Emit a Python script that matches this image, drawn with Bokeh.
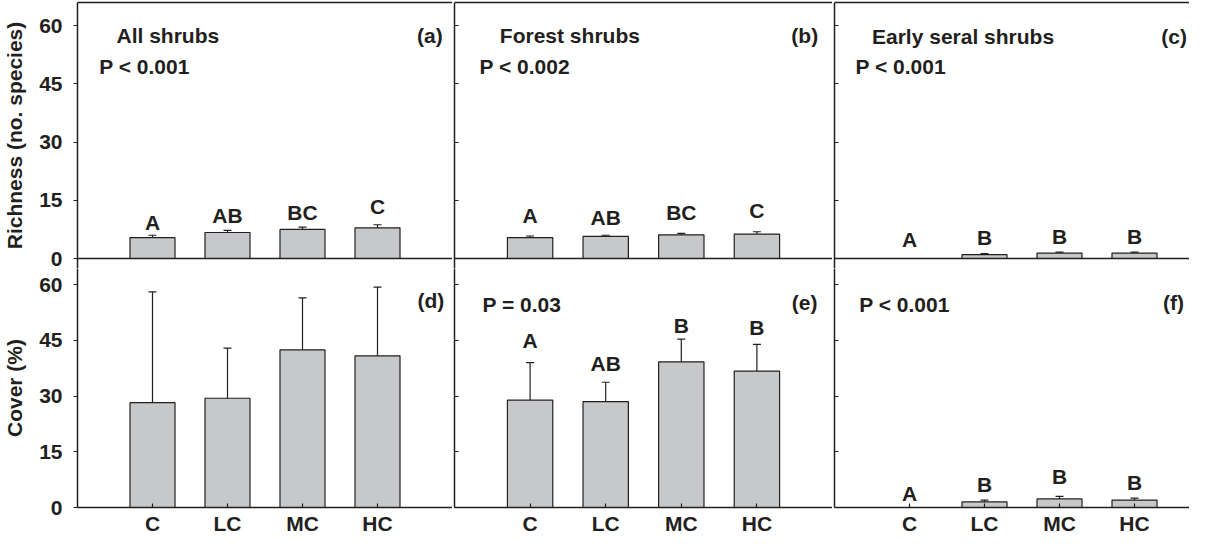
from bokeh.plotting import figure
from bokeh.layouts import gridplot
from bokeh.models import Range1d, FixedTicker, LinearAxis, Whisker, TeeHead, ColumnDataSource
from bokeh.core.properties import value
from bokeh.embed import file_html
from bokeh.resources import INLINE

# ---------------- data ----------------
treatments = ["C", "LC", "MC", "HC"]
y_ticks = [0, 15, 30, 45, 60]

# Richness (no. species): mean and upper error
rich_all_mean = [5.4, 6.7, 7.5, 7.9]
rich_all_err = [0.6, 0.55, 0.6, 0.8]
rich_forest_mean = [5.4, 5.7, 6.1, 6.3]
rich_forest_err = [0.4, 0.3, 0.4, 0.6]
rich_early_mean = [0.0, 1.0, 1.4, 1.4]
rich_early_err = [0.0, 0.25, 0.25, 0.25]

# Cover (%): mean and upper error
cover_all_mean = [28.2, 29.4, 42.4, 40.8]
cover_all_err = [29.8, 13.5, 14.0, 18.5]
cover_forest_mean = [28.9, 28.5, 39.2, 36.7]
cover_forest_err = [10.1, 5.2, 6.1, 7.2]
cover_early_mean = [0.0, 1.5, 2.3, 2.0]
cover_early_err = [0.0, 0.5, 0.7, 0.5]

# significance letters
letters_all_rich = ["A", "AB", "BC", "C"]
letters_forest_rich = ["A", "AB", "BC", "C"]
letters_early_rich = ["A", "B", "B", "B"]
letters_forest_cover = ["A", "AB", "B", "B"]
letters_early_cover = ["A", "B", "B", "B"]

panel_titles = ["All shrubs", "Forest shrubs", "Early seral shrubs"]
panel_tags = ["(a)", "(b)", "(c)", "(d)", "(e)", "(f)"]
p_texts = ["P < 0.001", "P < 0.002", "P < 0.001", None, "P = 0.03", "P < 0.001"]

# ---------------- layout / style ----------------
INK = "#231f20"
BAR = "#c7c8ca"
FONT = "Liberation Sans"
FS = "21px"

# letter heights (data units) for annotations
letters_y = {
    "a": [9.2, 11.2, 11.8, 13.5],
    "b": [11.1, 10.6, 11.8, 12.5],
    "c": [5.0, 5.4, 5.7, 5.7],
    "e": [44.9, 38.7, 49.1, 48.3],
    "f": [3.7, 6.2, 8.3, 6.8],
}

xs = list(range(1, len(treatments) + 1))
TOP_H, BOT_H, DELTA = 256, 249, 10
TOP_MAX, BOT_MAX = 66.0, 67.0
S_TOP = TOP_H / TOP_MAX
S_BOT = BOT_H / BOT_MAX
FRAME_W = [375, 378, 355]
LEFT_B = [75, 2, 2]
XMAX = [5.0, 5.0, 355 / 75.0]


def style_axis(ax):
    ax.axis_line_color = INK
    ax.axis_line_width = 1.5
    ax.major_tick_line_color = INK
    ax.major_tick_line_width = 1.2
    ax.minor_tick_line_color = None
    ax.minor_tick_in = 0
    ax.minor_tick_out = 0


def label_style(ax, standoff):
    ax.major_label_text_font = FONT
    ax.major_label_text_font_style = "bold"
    ax.major_label_text_font_size = FS
    ax.major_label_text_color = INK
    ax.major_label_standoff = standoff


def add_text(p, x, y, txt, align="left"):
    p.text(x=[x], y=[y], text=[txt], text_font=value(FONT), text_font_style="bold",
           text_font_size=FS, text_color=INK, text_align=align, text_baseline="alphabetic")


def make_panel(col, row, mean, err, letters=None, ly=None):
    top_row = row == 0
    if top_row:
        yr = Range1d(-DELTA / S_TOP, TOP_MAX)
        fh = TOP_H + DELTA
    else:
        yr = Range1d(0, BOT_MAX - DELTA / S_BOT)
        fh = BOT_H - DELTA
    p = figure(frame_width=FRAME_W[col], frame_height=fh,
               x_range=Range1d(0, XMAX[col]), y_range=yr,
               output_backend="svg", toolbar_location=None,
               min_border_left=LEFT_B[col], min_border_right=0,
               min_border_top=2 if top_row else 0, min_border_bottom=0,
               background_fill_color="white", border_fill_color="white")
    p.grid.visible = False
    p.outline_line_color = None

    # x axis
    xa = p.xaxis[0]
    style_axis(xa)
    xa.major_tick_out = 0
    if top_row:
        xa.ticker = FixedTicker(ticks=[])
        xa.major_tick_in = 0
        xa.fixed_location = 0
        xa.major_label_standoff = 0
        ta = LinearAxis(ticker=FixedTicker(ticks=[]), major_tick_in=0, major_tick_out=0,
                        major_label_standoff=0)
        style_axis(ta)
        p.add_layout(ta, "above")
    else:
        xa.ticker = FixedTicker(ticks=xs)
        xa.major_label_overrides = {x: t for x, t in zip(xs, treatments)}
        xa.major_tick_in = 4
        label_style(xa, 4)

    # y axis
    ya = p.yaxis[0]
    style_axis(ya)
    ya.ticker = FixedTicker(ticks=y_ticks)
    if col == 0:
        ya.major_tick_out = 4
        ya.major_tick_in = 0
        label_style(ya, 11)
        ya.axis_label = "Richness (no. species)" if top_row else "Cover (%)"
        ya.axis_label_text_font = FONT
        ya.axis_label_text_font_style = "bold"
        ya.axis_label_text_font_size = FS
        ya.axis_label_text_color = INK
        ya.axis_label_standoff = 10
    else:
        ya.major_tick_out = 0
        ya.major_tick_in = 4
        ya.major_label_overrides = {t: "" for t in y_ticks}
        ya.major_label_standoff = 0

    src = ColumnDataSource(dict(x=xs, top=mean, upper=[m + e for m, e in zip(mean, err)]))
    p.vbar(x="x", top="top", width=0.6, source=src, fill_color=BAR,
           line_color=INK, line_width=1.2)
    w = Whisker(source=src, base="x", upper="upper", lower="top", dimension="height",
                line_color=INK, line_width=1.2, level="glyph",
                upper_head=TeeHead(size=8, line_color=INK, line_width=1.2), lower_head=None)
    p.add_layout(w)

    if letters is not None:
        p.text(x=xs, y=ly, text=letters, text_font=value(FONT), text_font_style="bold",
               text_font_size=FS, text_color=INK, text_align="center",
               text_baseline="alphabetic")
    return p


pa = make_panel(0, 0, rich_all_mean, rich_all_err, letters_all_rich, letters_y["a"])
pb = make_panel(1, 0, rich_forest_mean, rich_forest_err, letters_forest_rich, letters_y["b"])
pc = make_panel(2, 0, rich_early_mean, rich_early_err, letters_early_rich, letters_y["c"])
pd = make_panel(0, 1, cover_all_mean, cover_all_err)
pe = make_panel(1, 1, cover_forest_mean, cover_forest_err, letters_forest_cover, letters_y["e"])
pf = make_panel(2, 1, cover_early_mean, cover_early_err, letters_early_cover, letters_y["f"])

# panel annotations
add_text(pa, 0.52, 57.5, panel_titles[0])
add_text(pb, 0.60, 57.5, panel_titles[1])
add_text(pc, 0.50, 57.3, panel_titles[2])
add_text(pa, 0.29, 49.4, p_texts[0])
add_text(pb, 0.33, 49.4, p_texts[1])
add_text(pc, 0.28, 49.4, p_texts[2])
add_text(pe, 0.37, 54.6, p_texts[4])
add_text(pf, 0.33, 54.6, p_texts[5])
add_text(pa, 4.87, 57.5, panel_tags[0], "right")
add_text(pb, 4.81, 57.5, panel_tags[1], "right")
add_text(pc, 4.70, 57.3, panel_tags[2], "right")
add_text(pd, 4.89, 55.8, panel_tags[3], "right")
add_text(pe, 4.80, 55.2, panel_tags[4], "right")
add_text(pf, 4.66, 55.2, panel_tags[5], "right")

grid = gridplot([[pa, pb, pc], [pd, pe, pf]], toolbar_location=None)

open("out.html", "w").write(file_html(grid, INLINE))
